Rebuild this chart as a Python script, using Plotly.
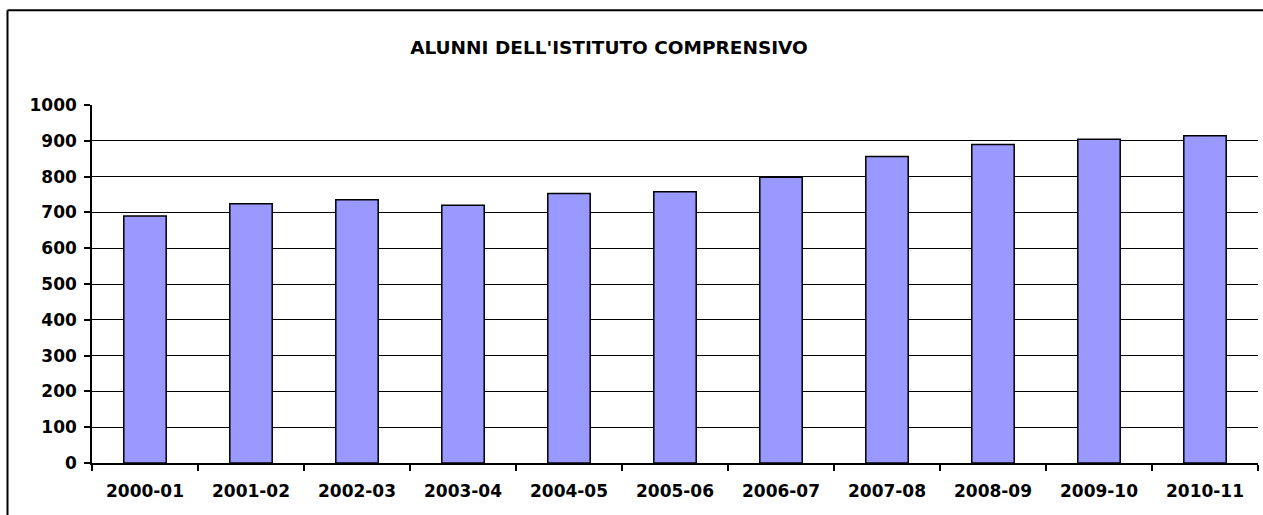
import plotly.graph_objects as go

years = ["2000-01", "2001-02", "2002-03", "2003-04", "2004-05", "2005-06",
         "2006-07", "2007-08", "2008-09", "2009-10", "2010-11"]
alunni = [690, 724, 735, 720, 753, 758, 798, 856, 890, 904, 914]
y_ticks = [0, 100, 200, 300, 400, 500, 600, 700, 800, 900, 1000]

W, H = 1263, 515
L, R, T = 92, 5, 105
B = H - 463.5

fig = go.Figure(go.Bar(
    x=years, y=alunni,
    marker=dict(color="#9999FF", line=dict(color="#000000", width=1.5)),
))

pw = W - L - R
ph = H - T - B
def px_x(x):
    return (x - L) / pw
def px_y(y):
    return (H - B - y) / ph

border = dict(color="black", width=2)

fig.update_layout(
    width=W, height=H,
    margin=dict(l=L, r=R, t=T, b=B),
    paper_bgcolor="white", plot_bgcolor="white",
    bargap=0.6,
    showlegend=False,
    font=dict(family="DejaVu Sans", size=17, color="black"),
    title=dict(text="<b>ALUNNI DELL'ISTITUTO COMPRENSIVO</b>",
               x=609 / W, xanchor="center", y=1 - 48 / H, yanchor="middle",
               font=dict(family="DejaVu Sans", size=18.5, color="black")),
    xaxis=dict(
        type="category", tickson="boundaries", ticks="outside", ticklen=6,
        tickcolor="black", tickwidth=1.5,
        showline=True, linecolor="black", linewidth=1.5,
        showgrid=False, ticklabelstandoff=12,
        tickfont=dict(family="DejaVu Sans", size=17, weight="bold"),
    ),
    yaxis=dict(
        range=[0, 1000], tickvals=y_ticks, ticks="outside", ticklen=6,
        tickcolor="black", tickwidth=1.5,
        showline=True, linecolor="black", linewidth=1.5,
        showgrid=True, gridcolor="black", gridwidth=1.2,
        zeroline=False, ticklabelstandoff=4,
        tickfont=dict(family="DejaVu Sans", size=17, weight="bold"),
    ),
    shapes=[
        dict(type="line", xref="paper", yref="paper",
             x0=px_x(7.5), x1=px_x(1300), y0=px_y(10), y1=px_y(10), line=border),
        dict(type="line", xref="paper", yref="paper",
             x0=px_x(7.5), x1=px_x(7.5), y0=px_y(10), y1=px_y(560), line=border),
    ],
)

fig.write_html(
    "out.html",
    config={"displayModeBar": False},
    post_script="document.body.style.margin='0';document.body.style.overflow='hidden';",
)
